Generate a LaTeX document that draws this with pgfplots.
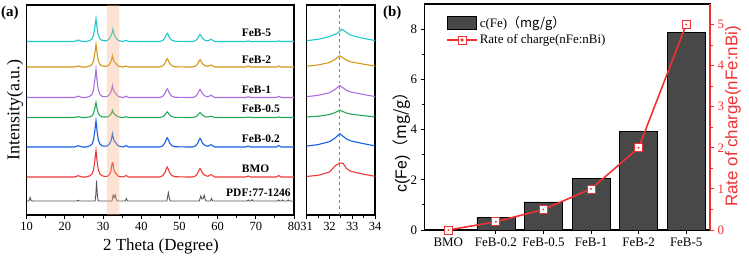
\documentclass[border=0pt]{standalone}
\usepackage{pgfplots}
\pgfplotsset{compat=1.18}
\usepackage{pgfplotstable}
\usepackage{fontspec}
\setmainfont{Liberation Serif}
\newfontfamily\arial{Liberation Sans}
\newfontfamily\cjk{Noto Sans CJK SC}
\definecolor{ccyan}{RGB}{30,200,205}
\definecolor{cgold}{RGB}{212,150,20}
\definecolor{cpurp}{RGB}{170,110,225}
\definecolor{cgreen}{RGB}{40,168,90}
\definecolor{cblue}{RGB}{20,95,230}
\definecolor{cred}{RGB}{240,55,55}
\definecolor{cgray}{RGB}{85,85,85}
\definecolor{lred}{RGB}{238,50,50}
\definecolor{barcol}{RGB}{72,72,72}
\definecolor{bandcol}{RGB}{245,175,130}

\pgfplotstableread{
x y
10 173.5
15 173.5
20 173.5
22.5 173.5
23.5 175.0
24.5 173.5
25.6 173.5
26.6 174.65
27.1 176.03
27.5 179.71
27.85 187.76
28.15 196.5
28.45 186.84
28.75 179.71
29.15 176.26
29.65 174.65
30.3 174.21
31.0 174.36
31.5 175.71
32.0 178.42
32.35 181.86
32.55 185.8
32.7 183.34
32.85 180.88
33.05 179.04
33.5 176.58
34.0 174.48
35.3 173.5
36.0 174.7
36.7 173.5
38 173.5
42 173.5
44.8 173.5
45.6 174.5
46.2 177.24
46.5 179.97
46.8 181.8
47.1 179.97
47.4 177.24
48.0 174.75
48.8 173.75
52 173.5
53.4 173.5
54.2 174.34
54.8 176.65
55.1 178.96
55.4 180.5
55.7 178.96
56.0 176.86
56.6 174.9
57.4 174.06
58.3 175.71
59.2 173.5
62 173.5
67.4 173.5
68 174.1
68.6 173.5
72 173.5
75.4 173.5
76 174.1
76.6 173.5
80 173.5
}\feBfive

\pgfplotstableread{
x y
10 148
15 148
20 148
22.5 148
23.5 149
24.5 148
25.6 148
26.6 149.13
27.1 150.49
27.5 154.1
27.85 162.01
28.15 170.6
28.45 161.11
28.75 154.1
29.15 150.71
29.65 149.13
30.3 148.68
31.0 148.79
31.5 150.03
32.0 152.52
32.25 155.68
32.45 159.3
32.6 157.04
32.75 154.78
32.95 153.09
33.5 150.83
34.0 148.9
35.3 148
36.0 149
36.7 148
38 148
42 148
44.8 148
45.6 149
46.2 151.74
46.5 154.47
46.8 156.3
47.1 154.47
47.4 151.74
48.0 149.25
48.8 148.25
52 148
53.4 148
54.2 148.88
54.8 151.29
55.1 153.69
55.4 155.3
55.7 153.69
56.0 151.5
56.6 149.46
57.4 148.58
58.3 150.02
59.2 148
62 148
67.4 148
68 149
68.6 148
72 148
75.4 148
76 149
76.6 148
80 148
}\feBtwo

\pgfplotstableread{
x y
10 117.5
15 117.5
20 117.5
22.5 117.5
23.5 118.8
24.5 117.5
25.6 117.5
26.6 118.92
27.1 120.61
27.5 125.14
27.85 135.05
28.15 145.8
28.45 133.91
28.75 125.14
29.15 120.9
29.65 118.92
30.3 118.31
31.0 118.34
31.5 119.66
32.0 122.3
32.25 125.66
32.45 129.5
32.6 127.1
32.75 124.7
32.95 122.9
33.5 120.5
34.0 118.46
35.3 117.5
36.0 118.8
36.7 117.5
38 117.5
42 117.5
44.8 117.5
45.6 118.56
46.2 121.46
46.5 124.36
46.8 126.3
47.1 124.36
47.4 121.46
48.0 118.82
48.8 117.76
52 117.5
53.4 117.5
54.2 118.48
54.8 121.19
55.1 123.9
55.4 125.7
55.7 123.9
56.0 121.44
56.6 119.14
57.4 118.16
58.3 119.75
59.2 117.5
62 117.5
67.4 117.5
68 118.3
68.6 117.5
72 117.5
75.4 117.5
76 118.7
76.6 117.5
80 117.5
}\feBone

\pgfplotstableread{
x y
10 97.5
15 97.5
20 97.5
22.5 97.5
23.5 98.3
24.5 97.5
25.6 97.5
26.6 98.25
27.1 99.15
27.5 101.55
27.85 106.8
28.15 112.5
28.45 106.2
28.75 101.55
29.15 99.3
29.65 98.25
30.3 97.95
31.0 98.01
31.5 98.81
32.0 100.42
32.25 102.46
32.45 104.8
32.6 103.34
32.75 101.88
32.95 100.79
33.5 99.33
34.0 98.08
35.3 97.5
36.0 98.3
36.7 97.5
38 97.5
42 97.5
44.8 97.5
45.6 98.18
46.2 100.07
46.5 101.95
46.8 103.2
47.1 101.95
47.4 100.07
48.0 98.36
48.8 97.67
52 97.5
53.4 97.5
54.2 98.1
54.8 99.75
55.1 101.4
55.4 102.5
55.7 101.4
56.0 99.9
56.6 98.5
57.4 97.9
58.3 98.85
59.2 97.5
62 97.5
67.4 97.5
68 98
68.6 97.5
72 97.5
75.4 97.5
76 98.1
76.6 97.5
80 97.5
}\feBhalf

\pgfplotstableread{
x y
10 68
15 68
20 68
22.5 68
23.5 69.3
24.5 68
25.6 68
26.6 69.32
27.1 70.89
27.5 75.1
27.85 84.31
28.15 94.3
28.45 83.25
28.75 75.1
29.15 71.16
29.65 69.32
30.3 68.8
31.0 68.93
31.5 70.39
32.0 73.32
32.25 77.04
32.45 81.3
32.6 78.64
32.75 75.98
32.95 73.99
33.5 71.33
34.0 69.06
35.3 68
36.0 69.5
36.7 68
38 68
42 68
44.8 68
45.6 69.12
46.2 72.19
46.5 75.25
46.8 77.3
47.1 75.25
47.4 72.19
48.0 69.4
48.8 68.28
52 68
53.4 68
54.2 69.03
54.8 71.87
55.1 74.71
55.4 76.6
55.7 74.71
56.0 72.13
56.6 69.72
57.4 68.69
58.3 70.26
59.2 68
62 68
67.4 68
68 69
68.6 68
72 68
75.4 68
76 69.5
76.6 68
80 68
}\feBfifth

\pgfplotstableread{
x y
10 38
15 38
20 38
22.5 38
23.5 39.3
24.5 38
25.6 38
26.6 39.33
27.1 40.93
27.5 45.18
27.85 54.49
28.15 64.6
28.45 53.43
28.75 45.18
29.15 41.19
29.65 39.33
30.3 38.7
31.0 38.56
31.5 39.68
32.0 42.9
32.25 49.2
32.45 52
32.6 51.58
32.75 46.4
32.95 43.6
33.5 40.8
34.0 38.7
35.3 38
36.0 39.5
36.7 38
38 38
42 38
44.8 38
45.6 39.2
46.2 42.5
46.5 45.8
46.8 48
47.1 45.8
47.4 42.5
48.0 39.5
48.8 38.3
52 38
53.4 38
54.2 39.02
54.8 41.83
55.1 44.63
55.4 46.5
55.7 44.63
56.0 42.08
56.6 39.7
57.4 38.68
58.3 40.46
59.2 38
62 38
67.4 38
68 39
68.6 38
72 38
75.4 38
76 39.5
76.6 38
80 38
}\bmo

\pgfplotstableread{
x y
10 14
10.6 14
10.9 17.5
11.2 14.5
11.6 14
23.2 14
23.5 14.8
23.8 14
27.9 14
28.1 20
28.3 34.3
28.5 20
28.7 14.5
29.0 14
32.3 14
32.5 17
32.65 20
32.9 17.5
33.2 20
33.4 16
33.7 14
35.8 14
36.1 16.5
36.4 14
46.7 14
46.9 18
47.1 22.3
47.3 18
47.6 14
55.2 14
55.6 19
55.9 16
56.2 16.5
56.5 19.7
56.8 15
57.1 14
58.1 14
58.4 16.5
58.7 14
67.7 14
68.0 15
68.3 14
68.7 14
69.0 15.2
69.3 14
75.7 14
76.0 15
76.3 14
76.7 14
77.0 15
77.3 14
78.2 14
78.5 15
78.8 14
80 14
}\pdfref

\pgfplotstableread{
x y
0 0
1 0.2
2 0.5
3 1
4 2
5 5
}\rate

\pgfplotsset{
  xrdax/.style={scale only axis, anchor=south west, height=210bp, ymin=0, ymax=210,
    ytick=\empty, axis line style={line width=1.1pt}, tick align=outside,
    xtick pos=bottom, major tick length=4bp, minor tick length=2.5bp,
    tick style={black, line width=1pt},
    tick label style={font=\fontsize{12.5}{14}\selectfont},
    /pgf/number format/assume math mode=true},
  xrd/.style={line width=1.1pt},
  linelegend/.style={legend image code/.code={%
    \draw[lred, line width=1.6pt] (0bp,0bp) -- (30bp,0bp);
    \draw[lred, fill=white, line width=0.8pt] (11bp,-4bp) rectangle (19bp,4bp);
    \fill[lred] (15bp,0bp) circle (0.7pt);}},
  barlegend/.style={legend image code/.code={\draw[fill=barcol, draw=black, line width=0.6pt] (0bp,-6.5bp) rectangle (29bp,6.5bp);}}
}

\begin{document}
\begin{tikzpicture}
\useasboundingbox (0,0) rectangle (749bp,257bp);

% ---------- panel (a) main ----------
\begin{axis}[xrdax, at={(26.7bp,42bp)}, width=267.3bp, xmin=10, xmax=80,
  xtick={10,20,...,80}, minor x tick num=1]
\addplot[xrd, cgray, line width=0.9pt] table {\pdfref};
\addplot[xrd, cred] table {\bmo};
\addplot[xrd, cblue] table {\feBfifth};
\addplot[xrd, cgreen] table {\feBhalf};
\addplot[xrd, cpurp] table {\feBone};
\addplot[xrd, cgold] table {\feBtwo};
\addplot[xrd, ccyan] table {\feBfive};
\addplot[fill=bandcol, draw=none, fill opacity=0.35] coordinates {(31,0) (31,210) (34.3,210) (34.3,0)} \closedcycle;
\begin{scope}[every node/.style={anchor=west, inner sep=0pt, font=\bfseries\fontsize{11.5}{13}\selectfont}]
\node at (axis cs:66.3,181.7) {FeB-5};
\node at (axis cs:66.3,155.7) {FeB-2};
\node at (axis cs:66.3,125) {FeB-1};
\node at (axis cs:66.3,106) {FeB-0.5};
\node at (axis cs:66.3,76.7) {FeB-0.2};
\node at (axis cs:66.3,46.7) {BMO};
\node at (axis cs:62.2,22.3) {PDF:77-1246};
\end{scope}
\end{axis}

% ---------- panel (a) inset ----------
\begin{axis}[xrdax, at={(306.7bp,42bp)}, width=68.3bp, xmin=31, xmax=34,
  xtick={31,32,33,34}, minor x tick num=1]
\addplot[xrd, cred] table {\bmo};
\addplot[xrd, cblue] table {\feBfifth};
\addplot[xrd, cgreen] table {\feBhalf};
\addplot[xrd, cpurp] table {\feBone};
\addplot[xrd, cgold] table {\feBtwo};
\addplot[xrd, ccyan] table {\feBfive};
\addplot[gray, dashed, line width=0.8pt] coordinates {(32.45,0) (32.45,210)};
\end{axis}

\node[anchor=west, inner sep=0pt, font=\bfseries\fontsize{15}{17}\selectfont] at (1bp,244bp) {(a)};
\node[rotate=90, font=\fontsize{18}{20}\selectfont] at (15bp,147bp) {Intensity(a.u.)};
\node[font=\fontsize{17}{19}\selectfont] at (161bp,10.5bp) {2 Theta (Degree)};

% ---------- panel (b) ----------
\begin{axis}[at={(424.5bp,27bp)}, anchor=south west, scale only axis,
  width=285.5bp, height=226bp, xmin=-0.5, xmax=5.5, ymin=0, ymax=9,
  ytick={0,2,...,8}, minor y tick num=1,
  xtick={0,...,5}, xticklabels={BMO,FeB-0.2,FeB-0.5,FeB-1,FeB-2,FeB-5},
  xtick pos=bottom, ytick pos=left, tick align=outside,
  major tick length=4bp, minor tick length=2.5bp,
  axis line style={line width=1.1pt}, tick style={black, line width=1pt},
  tick label style={font=\fontsize{13}{15}\selectfont},
  /pgf/number format/assume math mode=true]
\addplot[ybar, bar width=0.8, fill=barcol, draw=black, line width=0.5pt]
  coordinates {(0,0.03) (1,0.5) (2,1.12) (3,2.06) (4,3.92) (5,7.86)};
\end{axis}

\begin{axis}[at={(424.5bp,27bp)}, anchor=south west, scale only axis,
  width=285.5bp, height=226bp, xmin=-0.5, xmax=5.5, ymin=0, ymax=5.5,
  axis x line=none, axis y line*=right, clip=false,
  ytick={0,...,5}, minor y tick num=1, tick align=outside,
  major tick length=4bp, minor tick length=2.5bp,
  y axis line style={draw=lred, line width=1.6pt},
  tick style={draw=lred, line width=1pt},
  yticklabel style={text=lred, font=\fontsize{13}{15}\selectfont},
  /pgf/number format/assume math mode=true,
  legend style={at={(0.065,0.965)}, anchor=north west, draw=none, fill=none,
    font=\fontsize{13}{15}\selectfont, row sep=2bp},
  legend cell align=left]
\addlegendimage{barlegend}
\addlegendentry{c(Fe)\cjk{（}mg/g\cjk{）}}
\addplot[lred, line width=1.6pt, mark=square*, mark size=4bp,
  mark options={line width=0.8pt, fill=white, draw=lred}, linelegend]
  table {\rate};
\addlegendentry{Rate of charge(nFe:nBi)}
\addplot[only marks, mark=*, mark size=0.7pt, lred, forget plot] table {\rate};
\end{axis}

\node[anchor=west, inner sep=0pt, font=\bfseries\fontsize{15}{17}\selectfont] at (383bp,243.7bp) {(b)};
\node[rotate=90, font=\arial\fontsize{16}{18}\selectfont] at (401.7bp,118.5bp) {c(Fe)\cjk{（}mg/g\cjk{）}};
\node[rotate=90, text=lred, font=\arial\fontsize{17}{19}\selectfont] at (733bp,140.5bp) {Rate of charge(nFe:nBi)};
\end{tikzpicture}
\end{document}
